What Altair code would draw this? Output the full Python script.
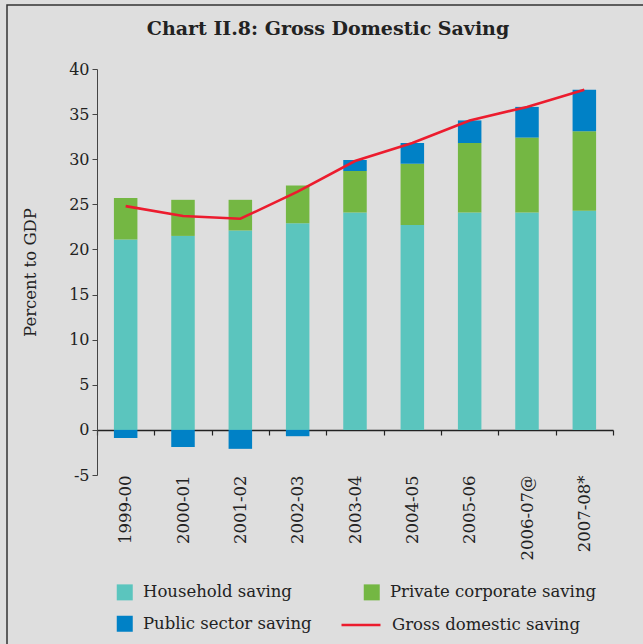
import altair as alt
import pandas as pd

title_text = "Chart II.8: Gross Domestic Saving"
years = ["1999-00", "2000-01", "2001-02", "2002-03", "2003-04",
         "2004-05", "2005-06", "2006-07@", "2007-08*"]
household = [21.1, 21.5, 22.1, 22.9, 24.1, 22.7, 24.1, 24.1, 24.3]
private_corp = [4.6, 4.0, 3.4, 4.2, 4.6, 6.8, 7.7, 8.3, 8.8]
public_sector = [-0.9, -1.9, -2.1, -0.7, 1.2, 2.3, 2.5, 3.4, 4.6]
gross_domestic = [24.8, 23.7, 23.4, 26.4, 29.8, 31.8, 34.3, 35.8, 37.7]

series_names = ["Household saving", "Private corporate saving", "Public sector saving"]
series_colors = ["#5bc5be", "#74b743", "#0081c6"]
# legend is laid out column by column: Household / Public in column 1, Private in column 2
legend_order = [0, 2, 1]
line_name = "Gross domestic saving"

rows = []
for k, (name, vals) in enumerate(zip(series_names, [household, private_corp, public_sector])):
    for y, v in zip(years, vals):
        rows.append({"year": y, "series": name, "value": v, "k": k})
bars_df = pd.DataFrame(rows)
line_df = pd.DataFrame({"year": years, "gds": gross_domestic, "label": [line_name] * len(years)})

FONT = "DejaVu Serif"
TXT = "#222222"

x_enc = alt.X("year:N", sort=years,
              scale=alt.Scale(paddingInner=0, paddingOuter=0),
              axis=alt.Axis(title=None, orient="bottom", offset=-45, labelAngle=270,
                            labelPadding=40, labelFontSize=16.5, labelFont=FONT, labelColor=TXT,
                            domainColor="#222222", domainWidth=1.5, tickColor="#222222",
                            tickSize=5, tickWidth=1.2, tickBand="extent"))
y_scale = alt.Scale(domain=[-5, 40], nice=False, zero=False)
y_axis = alt.Axis(values=list(range(-5, 45, 5)), tickSize=5, labelPadding=3,
                  labelExpr="replace(datum.label, '\u2212', '-')",
                  labelFontSize=16, labelFont=FONT, labelColor=TXT,
                  domainColor="#444444", tickColor="#444444", grid=False,
                  title="Percent to GDP", titleFont=FONT, titleFontSize=16.5,
                  titleFontWeight="normal", titleColor=TXT,
                  titleX=-67, titleY=203, titleAngle=270, titleAlign="center",
                  titleBaseline="middle")

bars = alt.Chart(bars_df).mark_bar(width=alt.RelativeBandSize(0.41)).encode(
    x=x_enc,
    y=alt.Y("value:Q", scale=y_scale, axis=y_axis, stack="zero"),
    fill=alt.Fill("series:N",
                  scale=alt.Scale(domain=[series_names[i] for i in legend_order],
                                  range=[series_colors[i] for i in legend_order]),
                  legend=alt.Legend(title=None, orient="none", legendX=19.5, legendY=515,
                                    columns=2, columnPadding=51, rowPadding=14.5,
                                    symbolType="square", symbolSize=256,
                                    symbolStrokeWidth=0, labelOffset=10,
                                    labelFont=FONT, labelFontSize=16.5, labelColor=TXT,
                                    padding=0, labelLimit=400)),
    order=alt.Order("k:Q"),
)

line = alt.Chart(line_df).mark_line(strokeWidth=2.6).encode(
    x=alt.X("year:N", sort=years),
    y=alt.Y("gds:Q", scale=y_scale),
    stroke=alt.Stroke("label:N",
                      scale=alt.Scale(domain=[line_name], range=["#ec1c2e"]),
                      legend=alt.Legend(title=None, orient="none", legendX=243, legendY=535,
                                        symbolType="stroke", symbolSize=1521,
                                        symbolStrokeWidth=2.6, labelOffset=10,
                                        labelFont=FONT, labelFontSize=16.5, labelColor=TXT,
                                        padding=0, labelLimit=400)),
)

frame = alt.Chart(alt.Data(values=[{}])).mark_rect(
    filled=False, stroke="#333333", strokeWidth=1.5
).encode(x=alt.value(-90), x2=alt.value(700), y=alt.value(-64), y2=alt.value(700))

title = alt.Chart(alt.Data(values=[{"t": title_text}])).mark_text(
    font=FONT, fontSize=19, fontWeight="bold", color=TXT, align="center", baseline="middle"
).encode(text="t:N", x=alt.value(231), y=alt.value(-40))

chart = alt.layer(frame, bars, line, title).resolve_scale(
    fill="independent", stroke="independent"
).properties(
    width=516, height=406,
    autosize=alt.AutoSizeParams(type="none"),
    padding={"left": 97, "top": 69, "right": 30, "bottom": 169},
).configure(background="#dedede").configure_view(stroke=None)

chart.save("out.html", embed_options={"renderer": "svg", "actions": False})
